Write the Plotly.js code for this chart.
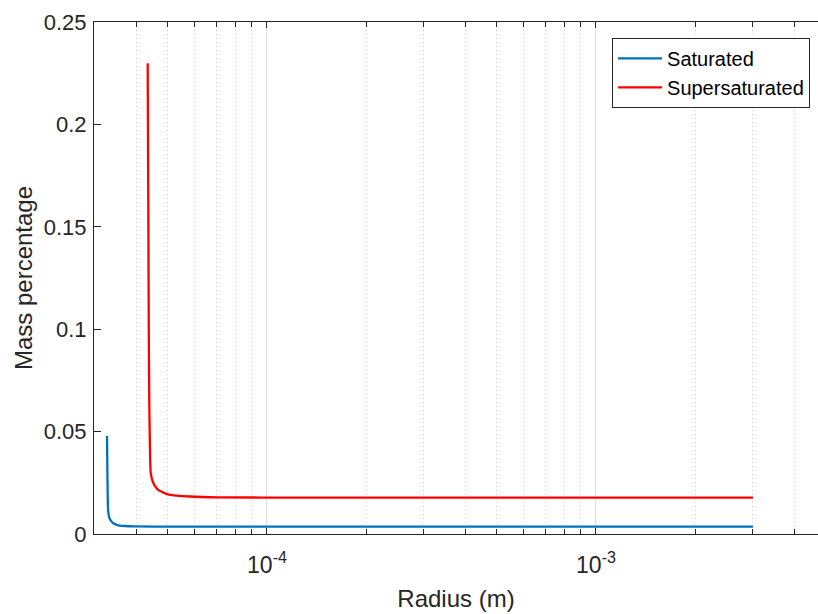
<!DOCTYPE html>
<html>
<head>
<meta charset="utf-8">
<script src="https://cdn.plot.ly/plotly-3.0.1.min.js"></script>
<style>html,body{margin:0;padding:0;background:#fff;}#chart{width:818px;height:614px;}</style>
</head>
<body>
<div id="chart"></div>
<script>
// Saturated series (radius in m, mass percentage)
const satRadius = [3.264e-5, 3.275e-5, 3.289e-5, 3.310e-5, 3.333e-5, 3.373e-5, 3.411e-5, 3.532e-5, 3.701e-5, 3.971e-5, 5.073e-5, 1e-4, 3e-4, 1e-3, 3e-3];
const satMass   = [0.0479, 0.0264, 0.0117, 0.00854, 0.00718, 0.00596, 0.00522, 0.00425, 0.0039, 0.00371, 0.00361, 0.0036, 0.0036, 0.0036, 0.0036];

// Supersaturated series
const supRadius = [4.339e-5, 4.357e-5, 4.372e-5, 4.387e-5, 4.409e-5, 4.431e-5, 4.456e-5, 4.487e-5, 4.566e-5, 4.663e-5, 4.786e-5, 4.966e-5, 5.325e-5, 5.834e-5, 7.047e-5, 1.259e-4, 3e-4, 1e-3, 3e-3];
const supMass   = [0.2298, 0.1631, 0.0996, 0.0654, 0.0410, 0.0298, 0.0278, 0.0259, 0.0234, 0.0217, 0.0206, 0.0195, 0.0187, 0.0183, 0.0179, 0.01777, 0.01773, 0.01772, 0.01772];

// Tick labels
const xMajorVals = [1e-4, 1e-3];
const xMajorText = ["10<sup>-4</sup>", "10<sup>-3</sup>"];
const yTickVals = [0, 0.05, 0.1, 0.15, 0.2, 0.25];
const yTickText = ["0", "0.05", "0.1", "0.15", "0.2", "0.25"];
const decades = [1e-5, 1e-4, 1e-3];
const minorMult = [2, 3, 4, 5, 6, 7, 8, 9];

const minorVals = [];
decades.forEach(d => minorMult.forEach(m => minorVals.push(d * m)));

const axisColor = '#262626';
const fontFam = '"Liberation Sans", Arial, Helvetica, sans-serif';

const traces = [
  {x: satRadius, y: satMass, type: 'scatter', mode: 'lines', name: 'Saturated',
   line: {color: '#0072BD', width: 2.3, shape: 'spline', smoothing: 0.6}},
  {x: supRadius, y: supMass, type: 'scatter', mode: 'lines', name: 'Supersaturated',
   line: {color: '#FF0000', width: 2.3, shape: 'spline', smoothing: 0.6}}
];

const layout = {
  width: 818, height: 614,
  margin: {l: 94, r: 0, t: 22, b: 80, pad: 0},
  paper_bgcolor: '#ffffff', plot_bgcolor: '#ffffff',
  font: {family: fontFam, color: axisColor, size: 22},
  showlegend: true,
  legend: {
    x: 0.989, xanchor: 'right', y: 0.969, yanchor: 'top',
    bgcolor: '#ffffff', bordercolor: axisColor, borderwidth: 1,
    font: {family: fontFam, size: 20, color: '#000000'},
    itemwidth: 44,
    tracegroupgap: 0
  },
  xaxis: {
    type: 'log',
    range: [-4.5258, -2.3252],
    tickmode: 'array', tickvals: xMajorVals, ticktext: xMajorText,
    ticks: 'inside', ticklen: 6, tickcolor: axisColor, tickwidth: 1,
    showline: true, linecolor: axisColor, linewidth: 1, mirror: 'ticks',
    showgrid: true, gridcolor: '#e2e2e2', gridwidth: 1,
    zeroline: false,
    tickfont: {size: 23, color: axisColor},
    ticklabelstandoff: 10,
    minor: {
      tickmode: 'array', tickvals: minorVals,
      ticks: 'inside', ticklen: 5, tickcolor: axisColor,
      showgrid: true, gridcolor: '#cfcfcf', griddash: '1px,3px', gridwidth: 1
    },
    title: {text: 'Radius (m)', font: {size: 24, color: axisColor}, standoff: 13}
  },
  yaxis: {
    range: [0, 0.25],
    tickmode: 'array', tickvals: yTickVals, ticktext: yTickText,
    ticks: 'inside', ticklen: 7, tickcolor: axisColor, tickwidth: 1,
    showline: true, linecolor: axisColor, linewidth: 1, mirror: false,
    showgrid: false, zeroline: false,
    tickfont: {size: 22, color: axisColor},
    ticklabelstandoff: 2,
    title: {text: 'Mass percentage', font: {size: 24, color: axisColor}, standoff: 4}
  }
};

Plotly.newPlot('chart', traces, layout, {displayModeBar: false, staticPlot: true});
</script>
</body>
</html>
